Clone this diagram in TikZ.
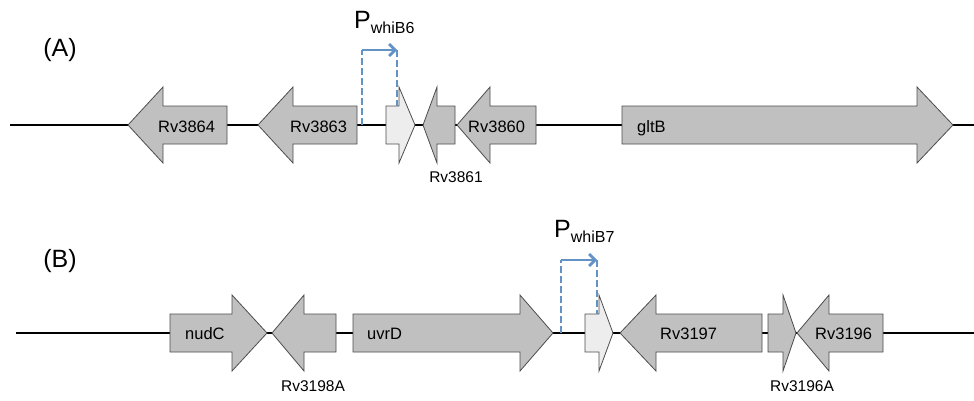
\documentclass[tikz,border=0pt]{standalone}
\usepackage{fontspec}
\setmainfont{Liberation Sans}
\usetikzlibrary{arrows.meta, calc}

\definecolor{genegray}{RGB}{192,192,192}
\definecolor{genelight}{RGB}{237,237,237}
\definecolor{promblue}{RGB}{98,146,198}

% forward gene: fill, left end, head base, tip, axis y
\newcommand{\fwdgene}[5]{%
  \draw[gene, fill=#1] (#2,#5-19) -- (#3,#5-19) -- (#3,#5-38) -- (#4,#5)
    -- (#3,#5+38) -- (#3,#5+19) -- (#2,#5+19) -- cycle;}
% reverse gene: fill, tip, head base, right end, axis y
\newcommand{\revgene}[5]{%
  \draw[gene, fill=#1] (#2,#5) -- (#3,#5-38) -- (#3,#5-19) -- (#4,#5-19)
    -- (#4,#5+19) -- (#3,#5+19) -- (#3,#5+38) -- cycle;}

\begin{document}
\begin{tikzpicture}[x=1pt, y=-1pt,
    every node/.style={font=\fontsize{16.5}{18}\selectfont, inner sep=0pt},
    gene/.style={draw=black!70, line width=0.8pt},
    dna/.style={line width=1.8pt},
    promo/.style={draw=promblue, line width=2.8pt, dash pattern=on 7pt off 3pt},
    promarrow/.style={draw=promblue, line width=2.8pt, -{Straight Barb[length=6pt, width=12pt]}},
    panel/.style={font=\fontsize{25}{28}\selectfont},
    small/.style={font=\fontsize{15.5}{17}\selectfont}]
  \useasboundingbox (0,0) rectangle (974,400);

  % ---------- (A) whiB6 region ----------
  \node[panel] (labA) at (60,50) {(A)};
  \coordinate (A0) at (10,125);
  \coordinate (A1) at (974,125);
  \draw[dna] (A0) -- (A1);
  % genes
  \revgene{genegray}{128}{163}{227}{125}
  \revgene{genegray}{258}{293}{357}{125}
  \fwdgene{genelight}{386}{399}{415}{125}
  \revgene{genegray}{423}{437}{455}{125}
  \revgene{genegray}{457}{490}{536}{125}
  \fwdgene{genegray}{622}{917}{953}{125}
  % gene names
  \node[anchor=base west] (rv3864) at (158,132) {Rv3864};
  \node[anchor=base west] (rv3863) at (290,132) {Rv3863};
  \node[anchor=base west] (rv3860) at (468,132) {Rv3860};
  \node[anchor=base west] (gltB) at (637,132) {gltB};
  \node[small, anchor=base] (rv3861) at (456,182) {Rv3861};
  % promoter
  \coordinate (pA1) at (362,125);
  \coordinate (pA2) at (397,50);
  \coordinate (pA3) at (397,106);
  \draw[promo] (pA1) -- (pA1 |- pA2);
  \draw[promarrow] (pA1 |- pA2) -- (pA2);
  \draw[promo] (pA2) -- (pA3);
  \node[panel, anchor=base west] (PA) at (354,28)
    {P\raisebox{-5pt}{\fontsize{16}{17}\selectfont whiB6}};

  % ---------- (B) whiB7 region ----------
  \node[panel] (labB) at (60,261) {(B)};
  \coordinate (B0) at (16,333);
  \coordinate (B1) at (974,333);
  \draw[dna] (B0) -- (B1);
  % genes
  \fwdgene{genegray}{170}{232}{267}{333}
  \revgene{genegray}{272}{304}{336}{333}
  \fwdgene{genegray}{353}{520}{553}{333}
  \fwdgene{genelight}{585}{599}{613}{333}
  \revgene{genegray}{620}{656}{762}{333}
  \fwdgene{genegray}{768}{783}{796}{333}
  \revgene{genegray}{797}{829}{883}{333}
  % gene names
  \node[anchor=base west] (nudC) at (185,339) {nudC};
  \node[anchor=base west] (uvrD) at (367,339) {uvrD};
  \node[anchor=base west] (rv3197) at (660,339) {Rv3197};
  \node[anchor=base west] (rv3196) at (815,339) {Rv3196};
  \node[small, anchor=base] (rv3198A) at (313,391) {Rv3198A};
  \node[small, anchor=base] (rv3196A) at (802,391) {Rv3196A};
  % promoter
  \coordinate (pB1) at (561,333);
  \coordinate (pB2) at (597,260);
  \coordinate (pB3) at (597,314);
  \draw[promo] (pB1) -- (pB1 |- pB2);
  \draw[promarrow] (pB1 |- pB2) -- (pB2);
  \draw[promo] (pB2) -- (pB3);
  \node[panel, anchor=base west] (PB) at (554,237)
    {P\raisebox{-5pt}{\fontsize{16}{17}\selectfont whiB7}};
\end{tikzpicture}
\end{document}
